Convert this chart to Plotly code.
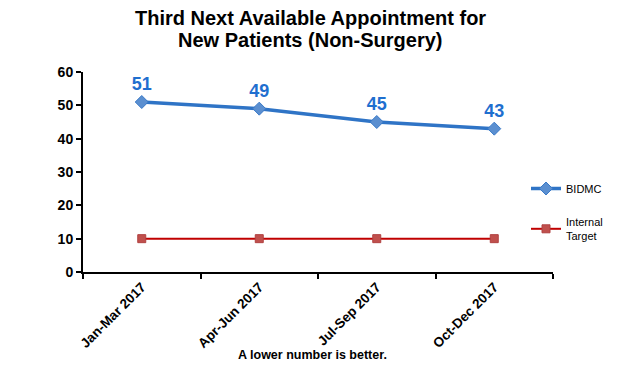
import plotly.graph_objects as go

categories = ["Jan-Mar 2017", "Apr-Jun 2017", "Jul-Sep 2017", "Oct-Dec 2017"]
bidmc = [51, 49, 45, 43]
target = [10, 10, 10, 10]
y_ticks = [0, 10, 20, 30, 40, 50, 60]

FONT = "Liberation Sans, Arial, sans-serif"
L, R, T, B = 83, 67, 72, 102
PH = 374 - T - B
PW = 620 - L - R

def py(pix):
    return (374 - B - pix) / PH

def px(pix):
    return (pix - L) / PW

fig = go.Figure()
fig.add_trace(go.Scatter(
    x=categories, y=bidmc, name="BIDMC", mode="lines+markers+text",
    line=dict(color="#2F74C6", width=3.5),
    marker=dict(symbol="diamond", size=10, color="#5B8FD0", line=dict(color="#3A7AC8", width=1)),
    text=["<b>%d</b>" % v for v in bidmc], textposition="top center",
    textfont=dict(family=FONT, size=18, color="#1F6FCF"),
    legendgroup="a",
))
fig.add_trace(go.Scatter(
    x=categories, y=target, name="Internal<br>Target", mode="lines+markers",
    line=dict(color="#C00000", width=2),
    marker=dict(symbol="square", size=8, color="#C0504D", line=dict(color="#B04040", width=1)),
    legendgroup="b",
))

fig.update_layout(
    width=620, height=374,
    margin=dict(l=L, r=R, t=T, b=B, autoexpand=False),
    paper_bgcolor="white", plot_bgcolor="white",
    font=dict(family=FONT, color="black"),
    showlegend=True,
    legend=dict(x=px(526), xanchor="left", y=py(174), yanchor="top",
                font=dict(family=FONT, size=11, color="black"),
                tracegroupgap=15, itemwidth=30, bgcolor="rgba(0,0,0,0)"),
)
fig.update_xaxes(
    type="category", range=[-0.5, 3.5], tickson="boundaries",
    ticks="outside", ticklen=5, tickwidth=2, tickcolor="black",
    showline=True, linecolor="black", linewidth=2, showgrid=False,
    tickangle=-45, tickfont=dict(family=FONT, size=13.5, color="black"),
    automargin=False,
    ticktext=["<b>" + c + "</b>" for c in categories], tickvals=categories,
)
fig.update_yaxes(
    range=[0, 60], tickvals=y_ticks, ticktext=["<b>%d</b>" % v for v in y_ticks],
    ticks="outside", ticklen=5, tickwidth=2, tickcolor="black",
    showline=True, linecolor="black", linewidth=2, showgrid=False, zeroline=False,
    tickfont=dict(family=FONT, size=14, color="black"), automargin=False,
)
title_lines = ["Third Next Available Appointment for", "New Patients (Non-Surgery)"]
for line, ypix in zip(title_lines, [18, 40]):
    fig.add_annotation(text="<b>%s</b>" % line, xref="paper", yref="paper",
                       x=px(310), y=py(ypix), xanchor="center", yanchor="middle",
                       showarrow=False,
                       font=dict(family=FONT, size=20, color="black"))
fig.add_annotation(text="<b>A lower number is better.</b>", xref="paper", yref="paper",
                   x=px(312), y=py(355), xanchor="center", yanchor="middle",
                   showarrow=False,
                   font=dict(family=FONT, size=12.5, color="black"))

fig.write_html("out.html", config={"displayModeBar": False},
               post_script="document.body.style.margin='0';")
